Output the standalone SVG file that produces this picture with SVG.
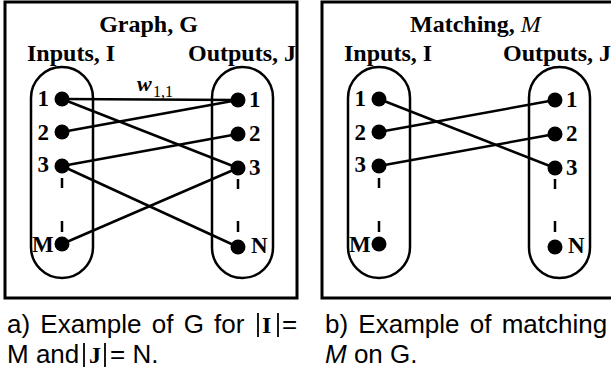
<svg xmlns="http://www.w3.org/2000/svg" width="611" height="373" viewBox="0 0 611 373">
<style>
.frame{fill:none;stroke:#000;stroke-width:3}
.pill{fill:none;stroke:#000;stroke-width:2.5}
.edge{stroke:#000;stroke-width:2.5;fill:none}
.tick{stroke:#000;stroke-width:2.5}
.dot{fill:#000}
.h{font-family:"Liberation Serif",serif;font-weight:bold;font-size:24px;fill:#000}
.n{font-family:"Liberation Serif",serif;font-weight:bold;font-size:23px;fill:#000}
.cap{font-family:"Liberation Sans",Arial,sans-serif;font-size:26px;fill:#000}
.capb{font-family:"Liberation Serif",serif;font-weight:bold;font-size:24px;fill:#000}
.bar{stroke:#000;stroke-width:1.8}
</style>
<rect width="611" height="373" fill="#fff"/>

<!-- Panel a -->
<g id="panelA">
<rect class="frame" x="5" y="2" width="292" height="296"/>
<text class="h" x="148.5" y="32" text-anchor="middle">Graph, G</text>
<text class="h" x="27" y="61">Inputs, I</text>
<text class="h" x="188" y="61">Outputs, J</text>
</g>
<g id="inputsA">
<rect class="pill" x="31" y="67" width="62" height="211" rx="31" ry="31"/>
<line class="tick" x1="62" y1="178" x2="62" y2="188"/>
<line class="tick" x1="62" y1="221" x2="62" y2="232"/>
</g>
<g id="outputsA">
<rect class="pill" x="212" y="67" width="61" height="211" rx="30.5" ry="30.5"/>
<line class="tick" x1="238" y1="179" x2="238" y2="189"/>
<line class="tick" x1="238" y1="221" x2="238" y2="232"/>
</g>
<g id="connectorsA">
<line class="edge" x1="62" y1="99" x2="238" y2="100"/>
<line class="edge" x1="62" y1="99" x2="238" y2="168"/>
<line class="edge" x1="62" y1="132" x2="238" y2="100"/>
<line class="edge" x1="62" y1="166" x2="238" y2="134"/>
<line class="edge" x1="62" y1="166" x2="238" y2="247"/>
<line class="edge" x1="62" y1="244" x2="238" y2="168"/>
<text x="137" y="91" font-family="Liberation Serif,serif" font-style="italic" font-weight="bold" font-size="22">w</text>
<text x="153" y="97" font-family="Liberation Serif,serif" font-size="16">1,1</text>
</g>
<g id="a_in1"><circle class="dot" cx="62" cy="99" r="7.5"/><text class="n" x="49" y="106" text-anchor="end">1</text></g>
<g id="a_in2"><circle class="dot" cx="62" cy="132" r="7.5"/><text class="n" x="49" y="140" text-anchor="end">2</text></g>
<g id="a_in3"><circle class="dot" cx="62" cy="166" r="7.5"/><text class="n" x="49" y="172" text-anchor="end">3</text></g>
<g id="a_inM"><circle class="dot" cx="62" cy="244" r="7.5"/><text class="n" x="32" y="252">M</text></g>
<g id="a_out1"><circle class="dot" cx="238" cy="100" r="7.5"/><text class="n" x="249" y="107">1</text></g>
<g id="a_out2"><circle class="dot" cx="238" cy="134" r="7.5"/><text class="n" x="249" y="141">2</text></g>
<g id="a_out3"><circle class="dot" cx="238" cy="168" r="7.5"/><text class="n" x="249" y="175">3</text></g>
<g id="a_outN"><circle class="dot" cx="238" cy="247" r="7.5"/><text class="n" x="251" y="253">N</text></g>

<!-- Panel b -->
<g id="panelB">
<rect class="frame" x="322" y="2" width="292" height="296"/>
<text class="h" x="410" y="32">Matching, <tspan font-style="italic" font-weight="normal">M</tspan></text>
<text class="h" x="344" y="61">Inputs, I</text>
<text class="h" x="503" y="61">Outputs, J</text>
</g>
<g id="inputsB">
<rect class="pill" x="348" y="67" width="62" height="211" rx="31" ry="31"/>
<line class="tick" x1="379" y1="178" x2="379" y2="188"/>
<line class="tick" x1="379" y1="221" x2="379" y2="232"/>
</g>
<g id="outputsB">
<rect class="pill" x="529" y="67" width="61" height="211" rx="30.5" ry="30.5"/>
<line class="tick" x1="555" y1="179" x2="555" y2="189"/>
<line class="tick" x1="555" y1="221" x2="555" y2="232"/>
</g>
<g id="connectorsB">
<line class="edge" x1="379" y1="99" x2="555" y2="168"/>
<line class="edge" x1="379" y1="132" x2="555" y2="100"/>
<line class="edge" x1="379" y1="166" x2="555" y2="134"/>
</g>
<g id="b_in1"><circle class="dot" cx="379" cy="99" r="7.5"/><text class="n" x="366" y="106" text-anchor="end">1</text></g>
<g id="b_in2"><circle class="dot" cx="379" cy="132" r="7.5"/><text class="n" x="366" y="140" text-anchor="end">2</text></g>
<g id="b_in3"><circle class="dot" cx="379" cy="166" r="7.5"/><text class="n" x="366" y="172" text-anchor="end">3</text></g>
<g id="b_inM"><circle class="dot" cx="379" cy="244" r="7.5"/><text class="n" x="349" y="252">M</text></g>
<g id="b_out1"><circle class="dot" cx="555" cy="100" r="7.5"/><text class="n" x="566" y="107">1</text></g>
<g id="b_out2"><circle class="dot" cx="555" cy="134" r="7.5"/><text class="n" x="566" y="141">2</text></g>
<g id="b_out3"><circle class="dot" cx="555" cy="168" r="7.5"/><text class="n" x="566" y="175">3</text></g>
<g id="b_outN"><circle class="dot" cx="555" cy="247" r="7.5"/><text class="n" x="568" y="253">N</text></g>

<!-- Captions -->
<g id="captionA">
<text class="cap" x="7" y="333" word-spacing="3">a) Example of G for</text>
<line class="bar" x1="258" y1="313" x2="258" y2="337"/>
<text class="capb" x="262" y="333">I</text>
<line class="bar" x1="278" y1="313" x2="278" y2="337"/>
<text class="cap" x="282" y="333">=</text>
<text class="cap" x="7" y="363">M and</text>
<line class="bar" x1="84" y1="343" x2="84" y2="367"/>
<text class="capb" x="89" y="363">J</text>
<line class="bar" x1="105" y1="343" x2="105" y2="367"/>
<text class="cap" x="110" y="363">= N.</text>
</g>
<g id="captionB">
<text class="cap" x="325" y="333" word-spacing="3">b) Example of matching</text>
<text class="cap" x="325" y="363"><tspan font-style="italic">M</tspan> on G.</text>
</g>
</svg>
